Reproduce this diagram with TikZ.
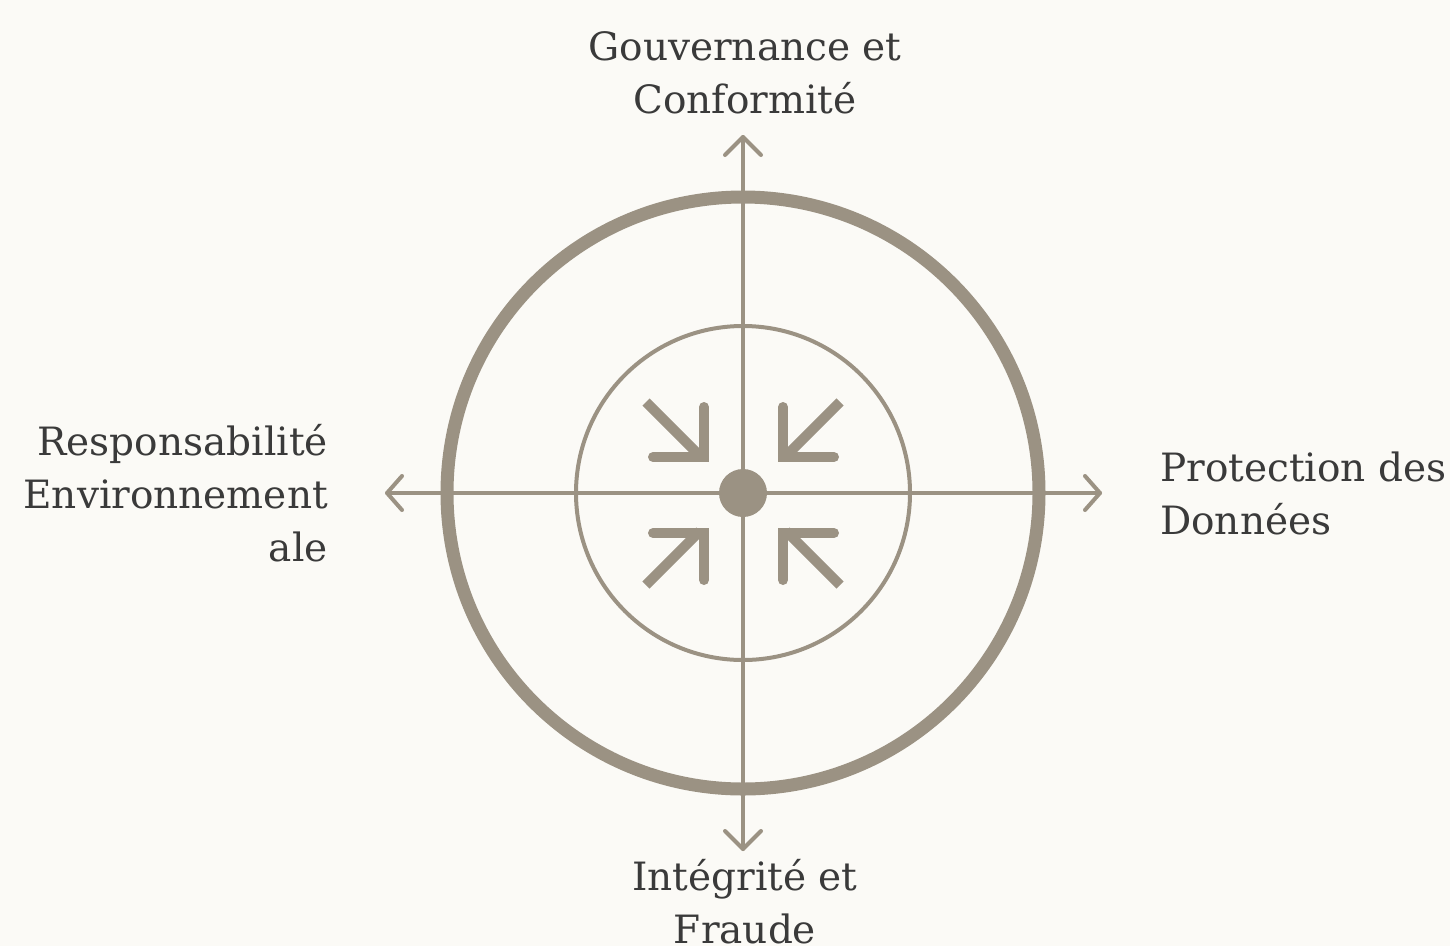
\documentclass[tikz,border=0pt]{standalone}
\usepackage{fontspec}
\setmainfont{DejaVu Serif}
\usetikzlibrary{arrows.meta,calc}
\definecolor{bg}{HTML}{FBFAF6}
\definecolor{ln}{HTML}{9B9283}
\definecolor{tx}{HTML}{3A3A3A}
\tikzset{
  lbl/.style={text=tx, font=\fontsize{39}{53}\selectfont, inner sep=0pt},
  axis/.style={draw=ln, line width=4pt, line cap=round, line join=round},
  icon/.style={draw=ln, line width=10pt, line cap=butt},
  chev/.style={draw=ln, line width=10pt, line cap=round, line join=miter},
}
\begin{document}
\begin{tikzpicture}[x=1pt,y=-1pt]
\fill[bg] (0,0) rectangle (1450,946);
\useasboundingbox (0,0) rectangle (1450,946);
\coordinate (c) at (743,493);
% circles
\draw[ln, line width=13pt] (c) circle[radius=296];
\draw[ln, line width=4pt] (c) circle[radius=167];
% axes
\coordinate (top) at (743,137);
\coordinate (bot) at (743,849);
\coordinate (lft) at (387,493);
\coordinate (rgt) at (1100,493);
\draw[axis] (top) -- (bot);
\draw[axis] (lft) -- (rgt);
\draw[axis] ($(top)+(-18,18)$) -- (top) -- ($(top)+(18,18)$);
\draw[axis] ($(bot)+(-18,-18)$) -- (bot) -- ($(bot)+(18,-18)$);
\draw[axis] ($(lft)+(15,-17)$) -- (lft) -- ($(lft)+(15,17)$);
\draw[axis] ($(rgt)+(-15,-17)$) -- (rgt) -- ($(rgt)+(-15,17)$);
% centre dot
\fill[ln] (c) circle[radius=24];
% inward arrows
\draw[icon] (646,402) -- (700,456);
\draw[chev] (704,407) -- (704,457) -- (653,457);
\draw[icon] (840,402) -- (786,456);
\draw[chev] (783,407) -- (783,457) -- (834,457);
\draw[icon] (646,585) -- (700,531);
\draw[chev] (704,580) -- (704,533) -- (653,533);
\draw[icon] (840,585) -- (786,531);
\draw[chev] (783,580) -- (783,533) -- (834,533);
% labels
\node[lbl, align=center, anchor=center] (gov) at (745,73) {Gouvernance et\\Conformité};
\node[lbl, align=center, anchor=center] (int) at (745,902) {Intégrité et\\Fraude};
\node[lbl, align=right, anchor=east] (env) at (328,493) {Responsabilité\\Environnement\\ale};
\node[lbl, align=left, anchor=west] (pro) at (1160,493) {Protection des\\Données};
\end{tikzpicture}
\end{document}
